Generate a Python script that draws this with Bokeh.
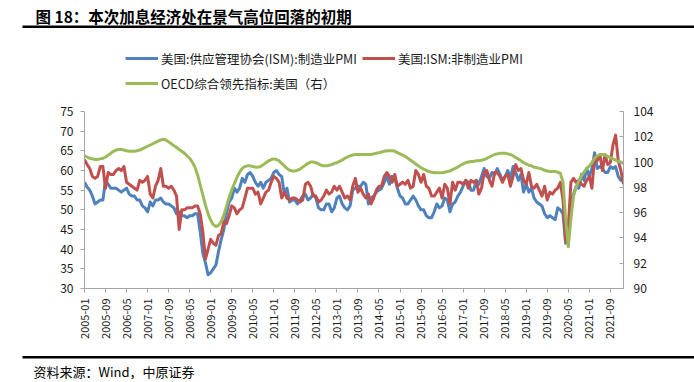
import math
from bokeh.plotting import figure
from bokeh.layouts import column
from bokeh.models import (Range1d, LinearAxis, FixedTicker, Legend, LegendItem,
                          Label, BoxAnnotation)
from bokeh.embed import file_html
from bokeh.resources import INLINE

# ---------------- data ----------------
months = [f"{y}-{m:02d}" for y in range(2005, 2023) for m in range(1, 13)][:206]

tick_labels = ["2005-01", "2005-09", "2006-05", "2007-01", "2007-09", "2008-05",
               "2009-01", "2009-09", "2010-05", "2011-01", "2011-09", "2012-05",
               "2013-01", "2013-09", "2014-05", "2015-01", "2015-09", "2016-05",
               "2017-01", "2017-09", "2018-05", "2019-01", "2019-09", "2020-05",
               "2021-01", "2021-09"]

# 美国:供应管理协会(ISM):制造业PMI
ism_mfg = [
    57.0, 55.8, 55.0, 53.5, 51.5, 52.0, 52.5, 52.5, 57.5, 56.5, 55.5, 55.5,
    55.5, 55.0, 54.5, 55.0, 55.5, 54.0, 53.5, 53.5, 52.5, 52.5, 51.0, 50.5,
    49.5, 52.0, 51.0, 52.5, 52.5, 53.0, 52.0, 51.5, 51.5, 51.0, 50.5, 49.0,
    49.5, 48.5, 48.5, 48.0, 48.5, 48.5, 49.0, 49.0, 44.5, 39.0, 36.5, 33.5,
    34.0, 35.0, 36.0, 39.5, 42.5, 45.0, 49.0, 52.0, 53.0, 55.5, 54.5, 55.5,
    58.0, 57.0, 59.0, 59.5, 58.5, 57.0, 56.0, 57.0, 55.5, 57.0, 57.5, 58.0,
    59.5, 60.0, 59.0, 58.5, 54.0, 55.5, 52.0, 52.5, 52.5, 51.5, 52.5, 53.5,
    54.0, 52.5, 53.0, 54.0, 53.0, 50.5, 50.0, 50.0, 51.5, 51.5, 49.5, 50.5,
    53.0, 53.5, 51.5, 50.5, 50.0, 51.0, 55.0, 55.5, 56.0, 56.0, 57.0, 56.5,
    51.5, 53.0, 53.5, 54.5, 55.0, 55.5, 57.0, 58.5, 56.5, 58.5, 58.0, 55.5,
    53.5, 53.0, 51.5, 51.5, 52.5, 53.5, 52.5, 51.0, 50.0, 50.0, 48.5, 48.0,
    48.0, 49.5, 51.5, 50.5, 51.0, 53.0, 52.5, 49.5, 51.5, 52.0, 53.5, 54.5,
    56.0, 57.5, 57.0, 55.0, 55.0, 57.5, 56.5, 58.5, 60.5, 58.5, 58.0, 59.5,
    59.0, 60.5, 59.0, 57.5, 58.5, 60.0, 58.0, 61.0, 59.5, 57.5, 59.0, 54.5,
    56.5, 54.5, 55.5, 53.0, 52.0, 51.5, 51.0, 49.0, 48.0, 48.5, 48.0, 47.5,
    50.5, 50.0, 49.0, 41.5, 43.0, 52.5, 54.0, 56.0, 55.5, 59.0, 57.5, 60.5,
    58.5, 60.5, 64.5, 60.5, 61.0, 60.5, 59.5, 59.5, 61.0, 60.5, 61.0, 58.5,
    57.5, 58.0,
]

# 美国:ISM:非制造业PMI
ism_nonmfg = [
    62.8, 61.5, 60.5, 58.5, 58.0, 58.5, 61.0, 61.0, 55.5, 59.5, 59.0, 59.0,
    60.0, 60.5, 60.0, 61.0, 57.0, 56.5, 56.0, 55.5, 55.0, 57.5, 57.0, 57.5,
    58.5, 54.0, 53.0, 56.0, 57.5, 60.5, 56.0, 56.0, 55.5, 56.0, 55.0, 53.5,
    45.0, 50.0, 50.0, 50.5, 50.5, 50.5, 51.0, 51.0, 49.0, 44.5, 37.5, 40.0,
    42.5, 41.5, 41.0, 43.5, 44.0, 47.0, 46.5, 48.5, 51.0, 50.5, 49.0, 50.0,
    50.5, 53.0, 55.5, 55.5, 55.5, 54.0, 54.5, 51.5, 53.0, 54.5, 55.0, 57.0,
    58.5, 58.0, 57.0, 53.0, 54.5, 53.0, 52.5, 53.0, 53.0, 52.5, 52.0, 52.5,
    56.5, 57.0, 56.0, 53.5, 53.5, 52.0, 52.5, 53.5, 55.0, 54.0, 54.5, 56.0,
    55.0, 56.0, 54.5, 53.0, 53.5, 52.5, 56.0, 58.0, 54.5, 55.5, 54.0, 53.0,
    54.0, 51.5, 53.0, 55.0, 56.0, 56.0, 58.5, 59.5, 58.5, 57.0, 59.0, 56.0,
    56.5, 57.0, 56.5, 57.5, 55.5, 56.0, 60.0, 59.0, 57.0, 59.0, 56.0, 55.5,
    53.5, 53.5, 54.5, 55.5, 53.0, 56.5, 55.5, 51.5, 57.0, 55.0, 57.0, 57.0,
    56.5, 57.5, 55.5, 57.5, 57.0, 57.5, 54.0, 55.5, 59.5, 60.0, 57.5, 56.0,
    59.5, 59.5, 58.5, 57.0, 58.5, 59.0, 56.0, 58.5, 61.5, 60.0, 60.5, 57.5,
    56.5, 59.5, 56.0, 55.5, 56.5, 55.0, 53.5, 56.0, 52.5, 54.5, 54.0, 55.0,
    55.5, 57.0, 52.5, 42.0, 45.5, 57.0, 58.0, 57.0, 57.5, 56.5, 56.0, 57.5,
    58.5, 55.5, 63.5, 62.5, 64.0, 60.0, 64.0, 61.5, 62.0, 66.5, 69.0, 62.5,
    60.0, 56.5,
]

# OECD综合领先指标:美国（右）
oecd_cli = [
    100.5, 100.4, 100.3, 100.25, 100.2, 100.2, 100.25, 100.3, 100.4, 100.55, 100.7, 100.85,
    100.95, 101.0, 101.0, 100.95, 100.9, 100.85, 100.85, 100.85, 100.9, 100.95, 101.05, 101.15,
    101.25, 101.35, 101.45, 101.55, 101.65, 101.75, 101.8, 101.75, 101.6, 101.45, 101.3, 101.15,
    101.0, 100.85, 100.7, 100.5, 100.3, 100.0, 99.6, 99.0, 98.2, 97.4, 96.6, 95.9,
    95.4, 95.05, 94.9, 95.0, 95.3, 95.8, 96.5, 97.2, 97.8, 98.3, 98.8, 99.2,
    99.5, 99.65, 99.7, 99.7, 99.65, 99.6, 99.6, 99.65, 99.8, 99.95, 100.1, 100.2,
    100.25, 100.2, 100.1, 99.9, 99.7, 99.5, 99.35, 99.3, 99.3, 99.35, 99.45, 99.6,
    99.75, 99.9, 100.0, 100.0, 99.95, 99.85, 99.75, 99.7, 99.7, 99.75, 99.8, 99.9,
    99.95, 100.05, 100.15, 100.3, 100.4, 100.5, 100.55, 100.6, 100.6, 100.6, 100.6, 100.6,
    100.6, 100.6, 100.65, 100.7, 100.75, 100.8, 100.85, 100.9, 100.9, 100.9, 100.85, 100.75,
    100.65, 100.55, 100.45, 100.3, 100.15, 100.0, 99.85, 99.7, 99.55, 99.45, 99.35, 99.25,
    99.2, 99.15, 99.15, 99.15, 99.15, 99.2, 99.25, 99.3, 99.4, 99.5, 99.6, 99.75,
    99.85, 99.95, 100.0, 100.05, 100.05, 100.1, 100.1, 100.15, 100.2, 100.3, 100.4, 100.5,
    100.6, 100.65, 100.7, 100.7, 100.7, 100.65, 100.6, 100.5, 100.35, 100.25, 100.1, 99.95,
    99.85, 99.75, 99.7, 99.6, 99.55, 99.5, 99.45, 99.35, 99.3, 99.25, 99.25, 99.25,
    99.2, 99.1, 98.4, 95.5, 93.3, 95.5, 97.3, 98.0, 98.5, 98.9, 99.2, 99.5,
    99.7, 99.95, 100.3, 100.5, 100.6, 100.6, 100.55, 100.45, 100.35, 100.25, 100.15, 100.05,
    100.0, 99.9,
]

left_ticks = [30, 35, 40, 45, 50, 55, 60, 65, 70, 75]
right_ticks = [90, 92, 94, 96, 98, 100, 102, 104]

series_names = ["美国:供应管理协会(ISM):制造业PMI", "美国:ISM:非制造业PMI",
                "OECD综合领先指标:美国（右）"]
series_colors = ["#4F81BD", "#C0504D", "#9BBB59"]

title_text = "图 18：本次加息经济处在景气高位回落的初期"
source_text = "资料来源：Wind，中原证券"

x = list(range(len(months)))

# ---------------- layout constants (page pixels) ----------------
FONT = "Noto Sans CJK SC"
AXIS_GRAY = "#A6A6A6"
TXT = "#1a1a1a"
W = 694
HEAD_H = 100          # header: title, rule, legend
MAIN_H = 245          # main chart (page y 100 .. 345)
FOOT_H = 37           # footer: rule + source  (page y 345 .. 382)
FRAME_L, FRAME_R = 84, 623
FRAME_T, FRAME_B = 111, 288


def blank_fig(h, y0):
    f = figure(width=W, height=h, output_backend="svg", toolbar_location=None,
               x_range=Range1d(0, W), y_range=Range1d(y0 + h, y0),
               x_axis_type=None, y_axis_type=None,
               min_border=0, min_border_left=0, min_border_right=0,
               min_border_top=0, min_border_bottom=0, frame_align=False)
    f.outline_line_color = None
    f.xgrid.visible = False
    f.ygrid.visible = False
    f.background_fill_color = "white"
    f.border_fill_color = "white"
    return f


# ---------------- header ----------------
head = blank_fig(HEAD_H, 0)
head.add_layout(Label(x=35, y=15.5, text=title_text, text_font=FONT,
                      text_font_size="15.5px", text_font_style="bold",
                      text_color="black", text_baseline="middle", text_align="left"))
head.add_layout(BoxAnnotation(left=22, right=W, top=25, bottom=27.5,
                              fill_color="black", fill_alpha=1, line_color=None))

# legend-only copies of the series (mapped to an off-screen range, so not visible here)
head.extra_y_ranges = {"off": Range1d(1000, 2000)}
legend_src = [
    head.line(x, ism_mfg, line_color=series_colors[0], line_width=3, y_range_name="off"),
    head.line(x, ism_nonmfg, line_color=series_colors[1], line_width=3, y_range_name="off"),
    head.line(x, oecd_cli, line_color=series_colors[2], line_width=3, y_range_name="off"),
]


def style_legend(lg):
    lg.label_text_font = FONT
    lg.label_text_font_size = "12.5px"
    lg.label_text_color = TXT
    lg.glyph_width = 33
    lg.glyph_height = 20
    lg.label_standoff = 3
    lg.spacing = 5
    lg.padding = 0
    lg.margin = 0
    lg.border_line_color = None
    lg.background_fill_alpha = 0


# location = bottom-left corner of the legend, measured up from the frame bottom
leg1 = Legend(items=[LegendItem(label=series_names[0], renderers=[legend_src[0]]),
                     LegendItem(label=series_names[1], renderers=[legend_src[1]])],
              orientation="horizontal", location=(125, HEAD_H - 68))
leg2 = Legend(items=[LegendItem(label=series_names[2], renderers=[legend_src[2]])],
              orientation="horizontal", location=(125, HEAD_H - 93))
style_legend(leg1)
style_legend(leg2)
head.add_layout(leg1)
head.add_layout(leg2)

# ---------------- main chart ----------------
p = figure(width=W, height=MAIN_H, output_backend="svg", toolbar_location=None,
           x_range=Range1d(0, len(months) - 1), y_range=Range1d(30, 75),
           min_border_left=FRAME_L, min_border_right=W - FRAME_R,
           min_border_top=FRAME_T - HEAD_H,
           min_border_bottom=HEAD_H + MAIN_H - FRAME_B, frame_align=False)
p.extra_y_ranges = {"right": Range1d(90, 104)}
p.outline_line_color = None
p.xgrid.visible = False
p.ygrid.visible = False
p.background_fill_color = "white"
p.border_fill_color = "white"


def style_axis(ax, size):
    ax.axis_line_color = AXIS_GRAY
    ax.major_tick_line_color = AXIS_GRAY
    ax.minor_tick_line_color = None
    ax.major_label_text_font = FONT
    ax.major_label_text_font_size = size
    ax.major_label_text_color = TXT


ya = p.yaxis[0]
ya.ticker = FixedTicker(ticks=left_ticks)
style_axis(ya, "12px")
ya.major_tick_out = 4
ya.major_tick_in = 0
ya.major_label_standoff = 7

xa = p.xaxis[0]
xa.ticker = FixedTicker(ticks=[months.index(t) for t in tick_labels])
xa.major_label_overrides = {months.index(t): t for t in tick_labels}
xa.major_label_orientation = math.pi / 2
style_axis(xa, "11px")
xa.major_tick_out = 4
xa.major_tick_in = 0
xa.major_label_standoff = 6

ra = LinearAxis(y_range_name="right", ticker=FixedTicker(ticks=right_ticks))
style_axis(ra, "12px")
ra.major_tick_out = 0
ra.major_tick_in = 4
ra.major_label_standoff = 10
p.add_layout(ra, "right")

p.line(x, ism_mfg, line_color=series_colors[0], line_width=3, line_join="round")
p.line(x, ism_nonmfg, line_color=series_colors[1], line_width=3, line_join="round")
p.line(x, oecd_cli, line_color=series_colors[2], line_width=3, line_join="round",
       y_range_name="right")

# ---------------- footer ----------------
foot = blank_fig(FOOT_H, HEAD_H + MAIN_H)
foot.add_layout(BoxAnnotation(left=22, right=W, top=355.5, bottom=358,
                              fill_color="black", fill_alpha=1, line_color=None))
foot.add_layout(Label(x=33, y=371, text=source_text, text_font=FONT,
                      text_font_size="13px", text_color="black",
                      text_baseline="middle", text_align="left"))

layout = column(head, p, foot, spacing=0)
open("out.html", "w").write(file_html(layout, INLINE))
